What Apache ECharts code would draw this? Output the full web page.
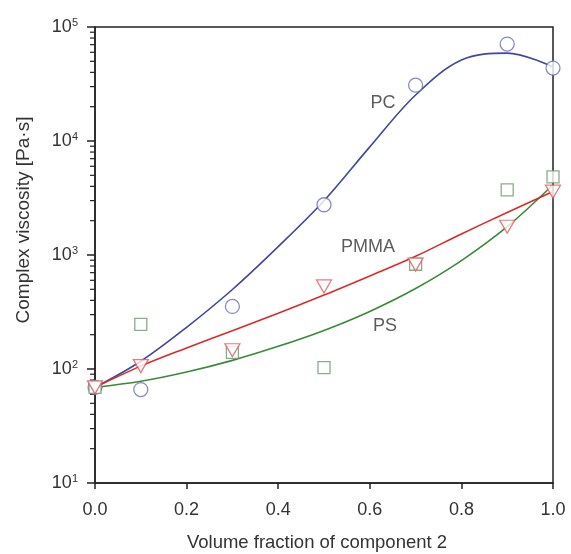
<!DOCTYPE html>
<html>
<head>
<meta charset="utf-8">
<script src="https://cdn.jsdelivr.net/npm/echarts@6/dist/echarts.min.js"></script>
<style>
  html, body { margin: 0; padding: 0; background: #ffffff; }
  #chart { width: 571px; height: 554px; }
</style>
</head>
<body>
<div id="chart"></div>
<script>
// Measured complex viscosity of the blends vs. volume fraction of component 2
const fractions = [0, 0.1, 0.3, 0.5, 0.7, 0.9, 1.0];
const pcMeasured = [69, 66, 354, 2760, 30900, 70800, 43600];
const pmmaMeasured = [69, 106, 146, 530, 824, 1770, 3590];
const psMeasured = [69, 246, 140, 103, 830, 3730, 4850];

// Fitted curves
const fitFractions = [0, 0.1, 0.2, 0.3, 0.4, 0.5, 0.6, 0.7, 0.8, 0.9, 1.0];
const pcFit = [69, 117, 232, 498, 1184, 2990, 8880, 25300, 51300, 59000, 44500];
const pmmaFit = [69, 106, 153, 217, 308, 445, 655, 974, 1530, 2360, 3610];
const psFit = [69, 78, 94, 119, 158, 218, 320, 508, 893, 1771, 4130];

// Curve labels
const curveLabels = ['PC', 'PMMA', 'PS'];
const labelX = [0.629, 0.596, 0.633];
const labelY = [21500, 1180, 237];

// Axis ticks
const yDecades = [10, 100, 1000, 10000, 100000];
const minorMultipliers = [2, 3, 4, 5, 6, 7, 8, 9];

const axisColor = '#222';
const textColor = '#333';
const fontFamily = 'Liberation Sans, Arial, sans-serif';

const pair = (xs, ys) => xs.map((x, i) => [x, ys[i]]);

const minorTickValues = [];
yDecades.slice(0, -1).forEach(d => minorMultipliers.forEach(m => minorTickValues.push([0, d * m])));

const chart = echarts.init(document.getElementById('chart'), null, { renderer: 'canvas' });

const option = {
  animation: false,
  backgroundColor: '#ffffff',
  grid: {
    left: 95, right: 18, top: 27, bottom: 71,
    containLabel: false, outerBoundsMode: 'none',
    show: true, borderColor: axisColor, borderWidth: 1.5, backgroundColor: 'transparent'
  },
  xAxis: {
    type: 'value', min: 0, max: 1, interval: 0.2,
    name: 'Volume fraction of component 2',
    nameLocation: 'middle', nameGap: 50,
    nameTextStyle: { fontSize: 18.5, color: textColor, fontFamily: fontFamily, padding: [0, 14, 0, 0] },
    axisLine: { show: true, lineStyle: { color: axisColor, width: 1.5 } },
    axisTick: { show: true, inside: false, length: 6, lineStyle: { color: axisColor, width: 1.5 } },
    axisLabel: {
      margin: 18, fontSize: 18, color: textColor, fontFamily: fontFamily,
      formatter: v => v.toFixed(1)
    },
    splitLine: { show: false }
  },
  yAxis: {
    type: 'log', logBase: 10, min: 10, max: 100000,
    name: 'Complex viscosity [Pa·s]',
    nameLocation: 'middle', nameGap: 62,
    nameTextStyle: { fontSize: 19, color: textColor, fontFamily: fontFamily, padding: [0, 0, 0, 70] },
    axisLine: { show: true, lineStyle: { color: axisColor, width: 1.5 } },
    axisTick: { show: true, inside: false, length: 8, lineStyle: { color: axisColor, width: 1.5 } },
    axisLabel: {
      margin: 17, color: textColor, fontFamily: fontFamily,
      formatter: v => '{b|10}{s|' + Math.round(Math.log10(v)) + '}',
      rich: {
        b: { fontSize: 18, color: textColor, fontFamily: fontFamily, lineHeight: 20 },
        s: { fontSize: 11, color: textColor, fontFamily: fontFamily, lineHeight: 12, verticalAlign: 'top' }
      }
    },
    splitLine: { show: false }
  },
  series: [
    {
      // log-axis minor ticks (2..9 within each decade)
      type: 'custom', name: 'minorTicks', silent: true, clip: false, z: 1,
      data: minorTickValues,
      renderItem: (params, api) => {
        const p = api.coord([api.value(0), api.value(1)]);
        return {
          type: 'line',
          shape: { x1: p[0] - 5, y1: p[1], x2: p[0], y2: p[1] },
          style: { stroke: axisColor, lineWidth: 1.2 }
        };
      }
    },
    {
      type: 'line', name: 'PC fit', data: pair(fitFractions, pcFit),
      smooth: 0.35, showSymbol: false, symbol: 'none', z: 2,
      lineStyle: { color: '#3d48a0', width: 1.6 }
    },
    {
      type: 'line', name: 'PS fit', data: pair(fitFractions, psFit),
      smooth: 0.35, showSymbol: false, symbol: 'none', z: 2,
      lineStyle: { color: '#3a8a3a', width: 1.6 }
    },
    {
      type: 'line', name: 'PMMA fit', data: pair(fitFractions, pmmaFit),
      smooth: 0.35, showSymbol: false, symbol: 'none', z: 2,
      lineStyle: { color: '#dc2a2a', width: 1.6 }
    },
    {
      type: 'scatter', name: 'PC', data: pair(fractions, pcMeasured), z: 3,
      symbol: 'circle', symbolSize: 14,
      itemStyle: { color: '#ffffff', borderColor: '#6870b5', borderWidth: 1.3 }
    },
    {
      type: 'scatter', name: 'PS', data: pair(fractions, psMeasured), z: 3,
      symbol: 'rect', symbolSize: 12,
      itemStyle: { color: '#ffffff', borderColor: '#6a9a6a', borderWidth: 1.3 }
    },
    {
      type: 'scatter', name: 'PMMA', data: pair(fractions, pmmaMeasured), z: 4,
      symbol: 'triangle', symbolRotate: 180, symbolSize: [15, 13],
      itemStyle: { color: '#ffffff', borderColor: '#e05a5a', borderWidth: 1.3 }
    },
    {
      type: 'scatter', name: 'labels', silent: true, z: 5,
      data: curveLabels.map((t, i) => ({ value: [labelX[i], labelY[i]], name: t })),
      symbolSize: 0,
      label: {
        show: true, position: 'inside', formatter: p => p.name,
        fontSize: 18, color: textColor, fontFamily: fontFamily
      }
    }
  ]
};

chart.setOption(option);
</script>
</body>
</html>
